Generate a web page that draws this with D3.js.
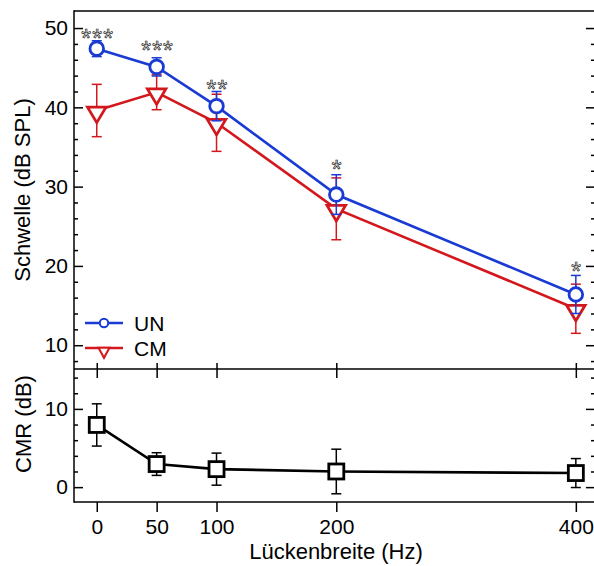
<!DOCTYPE html>
<html>
<head>
<meta charset="utf-8">
<script src="https://cdn.jsdelivr.net/npm/d3@7"></script>
<style>
  body { margin: 0; background: #fff; }
  svg { display: block; font-family: 'Liberation Sans', Arial, sans-serif; }
</style>
</head>
<body>
<div id="wrapper"></div>
<script>
// data
const gaps = [0, 50, 100, 200, 400]
const unValues = [47.4, 45.1, 40.15, 29.0, 16.4]
const unErrors = [1.0, 1.15, 1.85, 2.5, 2.4]
const cmValues = [39.6, 41.9, 38.05, 27.2, 14.6]
const cmErrors = [3.3, 2.2, 3.6, 3.9, 3.1]
const cmrValues = [7.95, 2.95, 2.3, 2.0, 1.8]
const cmrErrors = [2.7, 1.45, 2.05, 2.85, 1.85]
const stars = ['***', '***', '**', '*', '*']
const starLevels = [49.5, 48.0, 43.1, 33.0, 20.1]

const xTicks = [0, 50, 100, 200, 400]
const topTicks = [10, 20, 30, 40, 50]
const bottomTicks = [0, 10]

function chart(){

    // 1. Data
    const blue = '#1a3bd3'
    const red = '#d3181d'
    const unData = gaps.map((g, i) => ({ x: g, y: unValues[i], e: unErrors[i] }))
    const cmData = gaps.map((g, i) => ({ x: g, y: cmValues[i], e: cmErrors[i] }))
    const cmrData = gaps.map((g, i) => ({ x: g, y: cmrValues[i], e: cmrErrors[i] }))

    const xAccessor = d => d.x
    const yAccessor = d => d.y

    // 2. Dimensions
    let dimensions = {
        width: 594,
        height: 566,
        left: 74,
        right: 595,
        top: 11,
        split: 369,
        bottom: 502
    }

    // 3. Canvas
    const wrapper = d3.select('#wrapper')
        .append('svg')
            .attr('width', dimensions.width)
            .attr('height', dimensions.height)

    // scales
    const xScale = d3.scaleLinear()
        .domain([-19, 416])
        .range([dimensions.left, dimensions.right])
    const yTop = d3.scaleLinear()
        .domain([7, 52.15])
        .range([dimensions.split, dimensions.top])
    const yBottom = d3.scaleLinear()
        .domain([-1.9, 15.1])
        .range([dimensions.bottom, dimensions.split])

    // 4. Frame + axes
    const frame = wrapper.append('g')
        .attr('stroke', '#000')
        .attr('stroke-width', 1.5)
    frame.append('line')
        .attr('x1', dimensions.left).attr('x2', dimensions.left)
        .attr('y1', dimensions.top - 0.75).attr('y2', dimensions.bottom + 0.75)
    ;[dimensions.top, dimensions.split, dimensions.bottom].forEach(y => {
        frame.append('line')
            .attr('x1', dimensions.left).attr('x2', dimensions.right)
            .attr('y1', y).attr('y2', y)
    })

    const styleAxis = g => {
        g.select('.domain').remove()
        g.attr('font-size', 21).attr('font-family', null)
        g.selectAll('line').attr('stroke', '#000').attr('stroke-width', 1.5)
        g.selectAll('text').attr('fill', '#000')
    }

    const minorTop = d3.range(8, 52, 2).filter(v => v % 10 !== 0)
    const minorBottom = d3.range(0, 16, 2).filter(v => v % 10 !== 0)

    // left axes (ticks point inward)
    wrapper.append('g')
        .attr('transform', `translate(${dimensions.left},0)`)
        .call(d3.axisLeft(yTop).tickValues(topTicks).tickSize(-9).tickPadding(6))
        .call(styleAxis)
    wrapper.append('g')
        .attr('transform', `translate(${dimensions.left},0)`)
        .call(d3.axisLeft(yTop).tickValues(minorTop).tickSize(-4).tickFormat(''))
        .call(styleAxis)
    wrapper.append('g')
        .attr('transform', `translate(${dimensions.left},0)`)
        .call(d3.axisLeft(yBottom).tickValues(bottomTicks).tickSize(-9).tickPadding(6))
        .call(styleAxis)
    wrapper.append('g')
        .attr('transform', `translate(${dimensions.left},0)`)
        .call(d3.axisLeft(yBottom).tickValues(minorBottom).tickSize(-4).tickFormat(''))
        .call(styleAxis)

    // right mirror ticks
    ;[[yTop, topTicks, minorTop], [yBottom, bottomTicks, minorBottom]].forEach(([s, major, minor]) => {
        wrapper.append('g')
            .attr('transform', `translate(${dimensions.right},0)`)
            .call(d3.axisRight(s).tickValues(major).tickSize(-9).tickFormat(''))
            .call(styleAxis)
        wrapper.append('g')
            .attr('transform', `translate(${dimensions.right},0)`)
            .call(d3.axisRight(s).tickValues(minor).tickSize(-4).tickFormat(''))
            .call(styleAxis)
    })

    // x ticks on the split line and the bottom axis
    wrapper.append('g')
        .attr('transform', `translate(0,${dimensions.split})`)
        .call(d3.axisBottom(xScale).tickValues(xTicks).tickSize(-6).tickFormat(''))
        .call(styleAxis)
    wrapper.append('g')
        .attr('transform', `translate(0,${dimensions.split})`)
        .call(d3.axisTop(xScale).tickValues(xTicks).tickSize(-9).tickFormat(''))
        .call(styleAxis)
    wrapper.append('g')
        .attr('transform', `translate(0,${dimensions.bottom})`)
        .call(d3.axisBottom(xScale).tickValues(xTicks).tickSize(10).tickPadding(7))
        .call(styleAxis)

    // axis labels
    wrapper.append('text')
        .attr('transform', 'translate(30,190) rotate(-90)')
        .attr('text-anchor', 'middle')
        .attr('font-size', 22)
        .text('Schwelle (dB SPL)')
    wrapper.append('text')
        .attr('transform', 'translate(31,424) rotate(-90)')
        .attr('text-anchor', 'middle')
        .attr('font-size', 22)
        .text('CMR (dB)')
    wrapper.append('text')
        .attr('x', 336)
        .attr('y', 559)
        .attr('text-anchor', 'middle')
        .attr('font-size', 22)
        .text('Lückenbreite (Hz)')

    // 5. Draw data
    const triangle = (w, h) => `M${-w / 2},${-h * 0.22}L${w / 2},${-h * 0.22}L0,${h * 0.78}Z`

    const drawSeries = (data, yScale, color, marker) => {
        const g = wrapper.append('g')
        g.append('path')
            .datum(data)
            .attr('fill', 'none')
            .attr('stroke', color)
            .attr('stroke-width', 2.6)
            .attr('d', d3.line()
                .x(d => xScale(xAccessor(d)))
                .y(d => yScale(yAccessor(d))))
        const err = g.selectAll('.err')
            .data(data)
            .enter().append('g')
                .attr('stroke', color)
                .attr('stroke-width', 1.5)
        err.append('line')
            .attr('x1', d => xScale(d.x)).attr('x2', d => xScale(d.x))
            .attr('y1', d => yScale(d.y - d.e)).attr('y2', d => yScale(d.y + d.e))
        err.append('line')
            .attr('x1', d => xScale(d.x) - 5).attr('x2', d => xScale(d.x) + 5)
            .attr('y1', d => yScale(d.y + d.e)).attr('y2', d => yScale(d.y + d.e))
        err.append('line')
            .attr('x1', d => xScale(d.x) - 5).attr('x2', d => xScale(d.x) + 5)
            .attr('y1', d => yScale(d.y - d.e)).attr('y2', d => yScale(d.y - d.e))

        const marks = g.selectAll('.mark')
            .data(data)
            .enter()
        if (marker === 'circle') {
            marks.append('circle')
                .attr('cx', d => xScale(xAccessor(d)))
                .attr('cy', d => yScale(yAccessor(d)))
                .attr('r', 6.8)
                .attr('fill', '#fff')
                .attr('stroke', color)
                .attr('stroke-width', 2.8)
        } else if (marker === 'triangle') {
            marks.append('path')
                .attr('transform', d => `translate(${xScale(xAccessor(d))},${yScale(yAccessor(d))})`)
                .attr('d', triangle(18.5, 15.5))
                .attr('fill', '#fff')
                .attr('stroke', color)
                .attr('stroke-width', 2.8)
                .attr('stroke-linejoin', 'miter')
        } else {
            marks.append('rect')
                .attr('x', d => xScale(xAccessor(d)) - 7.5)
                .attr('y', d => yScale(yAccessor(d)) - 7.5)
                .attr('width', 15)
                .attr('height', 15)
                .attr('fill', '#fff')
                .attr('stroke', '#000')
                .attr('stroke-width', 2.8)
        }
    }

    drawSeries(cmData, yTop, red, 'triangle')
    drawSeries(unData, yTop, blue, 'circle')
    drawSeries(cmrData, yBottom, '#000', 'square')

    // significance stars (baseline sits ~15px below the glyph centre)
    wrapper.append('g')
        .selectAll('text')
        .data(gaps)
        .enter().append('text')
            .attr('x', d => xScale(d) + 1)
            .attr('y', (d, i) => yTop(starLevels[i]) + 15)
            .attr('text-anchor', 'middle')
            .attr('font-size', 25)
            .attr('letter-spacing', 1.2)
            .attr('fill', '#fff')
            .attr('stroke', '#222')
            .attr('stroke-width', 0.7)
            .text((d, i) => stars[i])

    // legend
    const legend = wrapper.append('g')
    const items = [
        { name: 'UN', color: blue, marker: 'circle', y: 323 },
        { name: 'CM', color: red, marker: 'triangle', y: 348 }
    ]
    items.forEach(it => {
        legend.append('line')
            .attr('x1', 85).attr('x2', 123)
            .attr('y1', it.y).attr('y2', it.y)
            .attr('stroke', it.color)
            .attr('stroke-width', 2.6)
        if (it.marker === 'circle') {
            legend.append('circle')
                .attr('cx', 104).attr('cy', it.y).attr('r', 4.2)
                .attr('fill', '#fff').attr('stroke', it.color).attr('stroke-width', 2)
        } else {
            legend.append('path')
                .attr('transform', `translate(104,${it.y + 2})`)
                .attr('d', triangle(11, 10))
                .attr('fill', '#fff').attr('stroke', it.color).attr('stroke-width', 2)
        }
        legend.append('text')
            .attr('x', 134)
            .attr('y', it.y + 8)
            .attr('font-size', 21)
            .text(it.name)
    })
}

chart()
</script>
</body>
</html>
